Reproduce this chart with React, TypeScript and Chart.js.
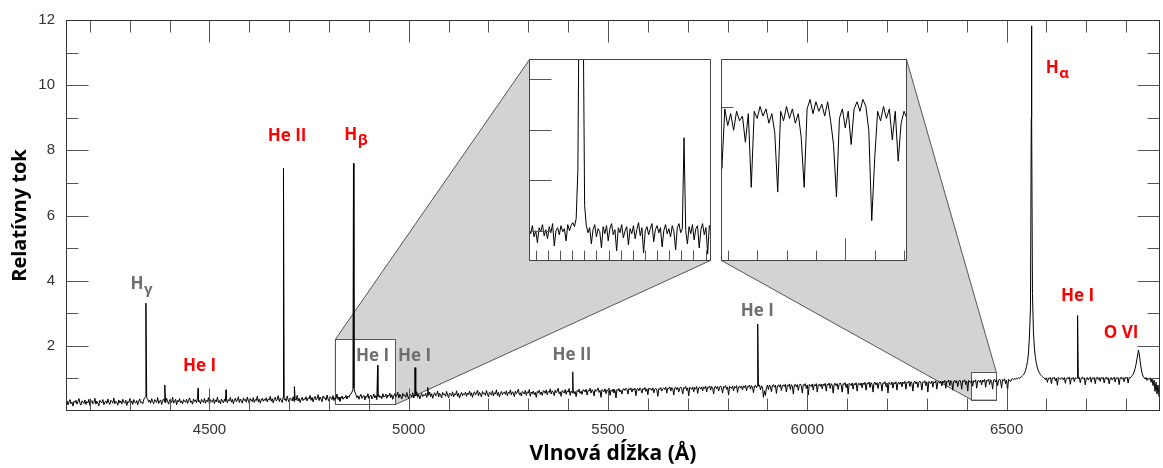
import React, { useEffect, useRef } from "react";
import { Chart, registerables } from "chart.js";
Chart.register(...registerables);

// ---------------- DATA ----------------
// main spectrum: continuum samples every 2.5 Å starting at 4140 Å (one row = 100 Å)
const gridStartWave = 4140;
const gridStepWave = 2.5;
const continuumFlux = [
  0.24,0.31,0.19,0.28,0.35,0.22,0.27,0.15,0.30,0.26,0.33,0.21,0.29,0.38,0.24,0.18,0.31,0.27,0.23,0.34,0.20,0.29,0.25,0.36,0.17,0.28,0.32,0.22,0.26,0.39,0.21,0.30,0.24,0.16,0.33,0.28,0.25,0.35,0.19,0.27,
  0.31,0.23,0.37,0.26,0.20,0.33,0.29,0.24,0.40,0.22,0.30,0.27,0.18,0.34,0.25,0.31,0.21,0.36,0.28,0.24,0.33,0.17,0.29,0.26,0.38,0.23,0.31,0.20,0.35,0.27,0.24,0.32,0.19,0.30,0.37,0.25,0.28,0.22,0.34,0.41,
  0.44,0.40,0.36,0.27,0.33,0.24,0.38,0.29,0.22,0.35,0.31,0.26,0.41,0.23,0.30,0.34,0.20,0.32,0.37,0.27,0.25,0.39,0.29,0.21,0.34,0.31,0.26,0.42,0.24,0.30,0.36,0.19,0.33,0.28,0.38,0.25,0.31,0.22,0.35,0.29,
  0.27,0.36,0.23,0.33,0.40,0.26,0.31,0.21,0.37,0.29,0.34,0.25,0.42,0.28,0.32,0.22,0.36,0.30,0.26,0.39,0.24,0.33,0.29,0.41,0.20,0.35,0.31,0.27,0.38,0.23,0.34,0.28,0.43,0.26,0.32,0.22,0.37,0.30,0.25,0.36,
  0.29,0.38,0.25,0.35,0.31,0.42,0.27,0.36,0.22,0.34,0.39,0.28,0.33,0.44,0.26,0.37,0.30,0.24,0.40,0.32,0.36,0.27,0.43,0.31,0.23,0.38,0.34,0.29,0.41,0.26,0.35,0.32,0.45,0.28,0.37,0.24,0.33,0.39,0.30,0.36,
  0.32,0.41,0.28,0.37,0.34,0.45,0.30,0.38,0.25,0.36,0.42,0.31,0.35,0.47,0.29,0.39,0.33,0.26,0.43,0.35,0.38,0.30,0.46,0.34,0.27,0.40,0.36,0.31,0.44,0.29,0.37,0.33,0.48,0.31,0.39,0.26,0.35,0.42,0.32,0.38,
  0.35,0.44,0.31,0.40,0.37,0.48,0.33,0.42,0.28,0.39,0.45,0.34,0.38,0.50,0.32,0.43,0.36,0.29,0.46,0.39,0.41,0.33,0.49,0.37,0.30,0.44,0.40,0.35,0.47,0.32,0.41,0.38,0.52,0.35,0.43,0.30,0.39,0.46,0.36,0.42,
  0.40,0.48,0.37,0.46,0.42,0.50,0.52,0.58,0.66,0.70,0.58,0.50,0.41,0.47,0.36,0.45,0.51,0.39,0.44,0.48,0.34,0.46,0.42,0.53,0.38,0.45,0.49,0.37,0.43,0.52,0.40,0.47,0.35,0.44,0.50,0.41,0.46,0.38,0.53,0.43,
  0.44,0.52,0.39,0.49,0.45,0.55,0.41,0.50,0.36,0.47,0.53,0.43,0.48,0.58,0.40,0.51,0.46,0.37,0.54,0.47,0.49,0.42,0.57,0.45,0.38,0.52,0.48,0.43,0.56,0.40,0.50,0.46,0.59,0.42,0.51,0.37,0.47,0.54,0.44,0.50,
  0.47,0.55,0.42,0.52,0.48,0.58,0.44,0.53,0.39,0.50,0.56,0.46,0.51,0.61,0.43,0.54,0.49,0.40,0.57,0.50,0.52,0.45,0.60,0.48,0.41,0.55,0.51,0.46,0.59,0.43,0.53,0.49,0.62,0.45,0.54,0.40,0.50,0.57,0.47,0.53,
  0.50,0.58,0.45,0.55,0.51,0.61,0.47,0.56,0.42,0.53,0.59,0.49,0.54,0.64,0.46,0.57,0.52,0.43,0.60,0.53,0.55,0.48,0.63,0.51,0.44,0.58,0.54,0.49,0.62,0.46,0.56,0.52,0.65,0.48,0.57,0.43,0.53,0.60,0.50,0.56,
  0.58,0.51,0.62,0.47,0.57,0.54,0.65,0.49,0.59,0.55,0.44,0.61,0.53,0.58,0.67,0.50,0.56,0.46,0.60,0.57,0.52,0.63,0.48,0.59,0.55,0.66,0.45,0.58,0.53,0.61,0.50,0.57,0.42,0.60,0.56,0.64,0.51,0.58,0.48,0.62,
  0.61,0.54,0.65,0.50,0.60,0.57,0.68,0.52,0.62,0.58,0.47,0.64,0.56,0.61,0.70,0.53,0.59,0.45,0.63,0.60,0.55,0.66,0.51,0.62,0.58,0.69,0.48,0.61,0.56,0.64,0.53,0.60,0.44,0.63,0.59,0.67,0.54,0.61,0.51,0.65,
  0.64,0.58,0.67,0.49,0.63,0.61,0.70,0.55,0.65,0.62,0.46,0.66,0.60,0.64,0.71,0.57,0.63,0.42,0.66,0.62,0.59,0.68,0.53,0.65,0.61,0.70,0.48,0.64,0.60,0.67,0.56,0.63,0.40,0.66,0.62,0.69,0.58,0.64,0.52,0.67,
  0.68,0.63,0.70,0.66,0.52,0.69,0.65,0.71,0.58,0.68,0.64,0.70,0.47,0.67,0.69,0.62,0.71,0.66,0.55,0.69,0.65,0.72,0.60,0.68,0.50,0.70,0.66,0.69,0.63,0.71,0.56,0.67,0.70,0.64,0.45,0.69,0.66,0.72,0.61,0.68,
  0.71,0.66,0.73,0.55,0.70,0.68,0.74,0.61,0.72,0.67,0.49,0.71,0.73,0.65,0.72,0.58,0.70,0.74,0.68,0.52,0.72,0.69,0.75,0.63,0.71,0.46,0.73,0.70,0.66,0.74,0.59,0.72,0.68,0.75,0.54,0.71,0.73,0.67,0.74,0.62,
  0.74,0.69,0.76,0.58,0.73,0.71,0.77,0.64,0.75,0.70,0.52,0.74,0.76,0.68,0.75,0.61,0.73,0.77,0.71,0.55,0.75,0.72,0.78,0.66,0.74,0.49,0.76,0.73,0.69,0.77,0.62,0.75,0.71,0.78,0.57,0.74,0.76,0.70,0.77,0.65,
  0.77,0.72,0.79,0.62,0.76,0.74,0.80,0.67,0.78,0.73,0.56,0.77,0.79,0.71,0.78,0.76,0.80,0.65,0.77,0.74,0.42,0.62,0.48,0.72,0.79,0.66,0.80,0.75,0.59,0.78,0.81,0.73,0.79,0.54,0.77,0.80,0.74,0.81,0.63,0.78,
  0.80,0.75,0.82,0.58,0.79,0.77,0.83,0.66,0.81,0.76,0.52,0.80,0.82,0.74,0.81,0.63,0.79,0.83,0.77,0.55,0.81,0.78,0.84,0.69,0.80,0.49,0.82,0.79,0.75,0.83,0.64,0.81,0.77,0.84,0.58,0.80,0.82,0.76,0.83,0.68,
  0.83,0.78,0.85,0.61,0.82,0.80,0.86,0.69,0.84,0.79,0.55,0.83,0.85,0.77,0.84,0.66,0.82,0.86,0.80,0.58,0.84,0.81,0.87,0.72,0.83,0.52,0.85,0.82,0.78,0.86,0.67,0.84,0.80,0.87,0.61,0.83,0.85,0.79,0.86,0.71,
  0.86,0.81,0.88,0.64,0.85,0.83,0.89,0.72,0.87,0.82,0.58,0.86,0.88,0.80,0.87,0.69,0.85,0.89,0.83,0.61,0.87,0.84,0.90,0.75,0.86,0.55,0.88,0.85,0.81,0.89,0.70,0.87,0.83,0.90,0.64,0.86,0.88,0.82,0.89,0.74,
  0.89,0.84,0.91,0.67,0.88,0.86,0.92,0.75,0.90,0.85,0.61,0.89,0.91,0.83,0.90,0.72,0.88,0.92,0.86,0.64,0.90,0.87,0.93,0.78,0.89,0.58,0.91,0.88,0.84,0.92,0.73,0.90,0.86,0.93,0.67,0.89,0.91,0.85,0.92,0.77,
  0.92,0.87,0.94,0.70,0.91,0.89,0.95,0.78,0.93,0.88,0.64,0.92,0.94,0.86,0.93,0.75,0.91,0.95,0.89,0.67,0.93,0.90,0.96,0.81,0.92,0.61,0.94,0.91,0.87,0.95,0.76,0.93,0.89,0.96,0.70,0.92,0.94,0.88,0.95,0.80,
  0.95,0.90,0.97,0.73,0.94,0.92,0.98,0.81,0.96,0.91,0.67,0.95,0.97,0.89,0.96,0.78,0.94,0.98,0.92,0.70,0.96,0.93,0.99,0.84,0.95,0.64,0.97,0.94,0.90,0.98,0.99,0.96,1.00,0.97,1.01,0.99,1.02,1.00,1.04,1.05,
  1.08,1.11,1.16,1.24,1.36,1.52,1.78,2.30,3.20,10.8,3.60,2.40,1.90,1.62,1.45,1.32,1.23,1.17,1.12,1.08,1.05,1.03,1.01,0.96,1.02,0.88,1.01,0.99,1.03,0.84,1.02,1.00,1.04,0.93,1.01,0.79,1.03,1.00,0.97,1.02,
  1.01,0.96,1.03,0.85,1.00,1.02,0.98,1.04,0.82,1.01,0.99,1.03,0.90,1.02,1.00,1.01,1.00,1.03,0.87,1.01,1.04,0.98,1.02,0.80,1.00,1.03,0.95,1.01,1.04,0.88,1.02,0.99,1.03,0.84,1.01,1.04,0.97,1.02,0.91,1.03,
  0.99,1.03,0.86,1.01,1.04,0.97,1.02,0.83,1.00,1.03,0.95,1.01,1.04,0.89,1.02,1.00,1.03,0.81,1.01,1.04,0.98,1.02,0.90,1.03,1.00,1.04,0.86,1.02,1.01,1.05,1.08,1.13,1.20,1.30,1.44,1.62,1.80,1.78,1.55,1.32,
  1.16,1.07,1.02,0.98,1.03,0.94,1.01,0.97,1.02,0.88,0.99,0.78,0.95,0.60,0.88,0.52,0.80,0.45,0.68,
];

// emission-line peaks (Å, relative flux)
const lineWave = [4340.5, 4387.9, 4471.5, 4541.6, 4685.7, 4713.1, 4861.3, 4921.9, 5015.7, 5047.7, 5411.5, 5875.6, 6562.0, 6562.8, 6563.6, 6678.2, 6830.5];
const lineFlux = [3.31, 0.80, 0.70, 0.65, 7.45, 0.75, 7.60, 1.40, 1.33, 0.72, 1.20, 2.67, 9.0, 11.82, 9.0, 2.93, 1.87];

const xTickLabels = [4500, 5000, 5500, 6000, 6500];
const yTickLabels = [2, 4, 6, 8, 10, 12];

// inset 1 (Hβ region), 1 Å steps
const inset1StartWave = 4830;
const inset1Flux = [
  0.52,0.47,0.55,0.44,0.50,0.38,0.53,0.49,0.56,0.45,
  0.51,0.42,0.54,0.48,0.57,0.35,0.50,0.53,0.46,0.55,
  0.49,0.52,0.40,0.56,0.50,0.55,0.58,0.54,0.62,1.10,
  3.50,7.60,3.00,0.75,0.55,0.48,0.53,0.37,0.51,0.56,
  0.44,0.52,0.49,0.33,0.54,0.47,0.55,0.40,0.52,0.57,
  0.46,0.51,0.30,0.53,0.48,0.56,0.43,0.50,0.54,0.36,
  0.52,0.47,0.55,0.42,0.51,0.58,0.45,0.53,0.28,0.50,
  0.54,0.46,0.52,0.57,0.39,0.51,0.55,0.48,0.53,0.34,
  0.50,0.56,0.47,0.52,0.44,0.55,0.49,0.31,0.53,0.57,
  0.48,0.52,1.42,0.50,0.37,0.54,0.47,0.56,0.41,0.52,
  0.55,0.33,0.51,0.57,0.46,0.53,0.27,0.55,0.50,
];
const inset1XTicks = [4834.0, 4841.2, 4848.4, 4855.6, 4862.8, 4870.0, 4877.2, 4884.4, 4891.6, 4898.8, 4906.0, 4913.2, 4920.4, 4927.6, 4934.8];
const inset1YTicks = [0.5, 1.0, 1.5, 2.0];

// inset 2 (6410–6470 Å), 1 Å steps
const inset2StartWave = 6407;
const inset2Flux = [
  0.93,0.74,0.99,0.92,0.97,0.90,0.98,0.94,0.96,0.85,
  0.97,0.66,0.98,0.95,1.00,0.96,0.99,0.93,0.97,0.89,
  0.64,0.98,0.94,1.00,0.95,0.99,0.93,0.97,0.87,0.66,
  0.99,1.03,0.97,1.02,0.98,1.01,0.96,1.02,0.94,0.84,
  0.62,0.95,0.99,0.91,0.98,0.84,0.99,1.02,0.98,1.03,
  1.00,0.90,0.52,0.78,0.98,0.94,1.00,0.95,0.99,0.86,
  0.98,0.77,0.93,0.98,0.95,
];
const inset2XTicks = [6410, 6420, 6430, 6440, 6450, 6460, 6470];
const inset2LongXTicks = [6450];
const inset2YTicks = [1.0];

// zoom regions on the main plot [λmin, λmax, fmin, fmax] and inset views
const zoomBox1 = [4816, 4967, 0.2, 2.2];
const zoomBox2 = [6411, 6474, 0.35, 1.2];
const inset1View = [4830, 4938, 0.2, 2.2];
const inset2View = [6407.7, 6471, 0.35, 1.2];

const RED = "#ff0000";
const GRAY = "#6e6e6e";
const lineLabels = [
  { text: "H", sub: "γ", wave: 4328.7, flux: 3.75, color: GRAY, weight: "bold" },
  { text: "He I", wave: 4475, flux: 1.22, color: RED, weight: "bold" },
  { text: "He II", wave: 4694.8, flux: 8.29, color: RED, weight: "bold" },
  { text: "H", sub: "β", wave: 4866.6, flux: 8.32, color: RED, weight: "bold" },
  { text: "He I", wave: 4909, flux: 1.52, color: GRAY, weight: "bold" },
  { text: "He I", wave: 5014.5, flux: 1.52, color: GRAY, weight: "bold" },
  { text: "He II", wave: 5409.5, flux: 1.55, color: GRAY, weight: "bold" },
  { text: "He I", wave: 5874.6, flux: 2.92, color: GRAY, weight: "bold" },
  { text: "H", sub: "α", wave: 6626.9, flux: 10.36, color: RED, weight: "bold" },
  { text: "He I", wave: 6678.3, flux: 3.38, color: RED, weight: "bold" },
  { text: "O VI", wave: 6787.4, flux: 2.25, color: RED, weight: "bold" },
];

// ---------------- LAYOUT ----------------
const W = 1163;
const H = 468;
const INSET1 = { left: 529, top: 59, width: 182, height: 202 };
const INSET2 = { left: 721, top: 59, width: 186, height: 202 };
const FRAME = "#333";
const TICK = "#555";

function hull(p: number[][]) {
  const pts = p.slice().sort((a, b) => a[0] - b[0] || a[1] - b[1]);
  const cross = (o: number[], a: number[], b: number[]) =>
    (a[0] - o[0]) * (b[1] - o[1]) - (a[1] - o[1]) * (b[0] - o[0]);
  const lower: number[][] = [];
  for (const q of pts) {
    while (lower.length >= 2 && cross(lower[lower.length - 2], lower[lower.length - 1], q) <= 0) lower.pop();
    lower.push(q);
  }
  const upper: number[][] = [];
  for (let i = pts.length - 1; i >= 0; i--) {
    const q = pts[i];
    while (upper.length >= 2 && cross(upper[upper.length - 2], upper[upper.length - 1], q) <= 0) upper.pop();
    upper.push(q);
  }
  upper.pop();
  lower.pop();
  return lower.concat(upper);
}

const mainDecor = {
  id: "mainDecor",
  beforeDatasetsDraw(chart: any) {
    const { ctx, scales } = chart;
    const x = scales.x, y = scales.y;
    const pairs: [number[], any][] = [[zoomBox1, INSET1], [zoomBox2, INSET2]];
    ctx.save();
    for (const [b, r] of pairs) {
      const bl = x.getPixelForValue(b[0]), br = x.getPixelForValue(b[1]);
      const bt = y.getPixelForValue(b[3]), bb = y.getPixelForValue(b[2]);
      const il = r.left + 0.5, it = r.top + 0.5, ir = r.left + r.width - 0.5, ib = r.top + r.height - 0.5;
      const h = hull([[bl, bt], [br, bt], [br, bb], [bl, bb], [il, it], [ir, it], [ir, ib], [il, ib]]);
      ctx.beginPath();
      h.forEach((p, i) => (i ? ctx.lineTo(p[0], p[1]) : ctx.moveTo(p[0], p[1])));
      ctx.closePath();
      ctx.fillStyle = "#d3d3d3";
      ctx.fill();
      ctx.strokeStyle = "#555";
      ctx.lineWidth = 1;
      ctx.stroke();
      ctx.fillStyle = "#fff";
      ctx.fillRect(bl, bt, br - bl, bb - bt);
      ctx.strokeRect(Math.round(bl) + 0.5, Math.round(bt) + 0.5, Math.round(br - bl), Math.round(bb - bt));
    }
    ctx.restore();
  },
  afterDatasetsDraw(chart: any) {
    const { ctx, chartArea: a, scales } = chart;
    const x = scales.x, y = scales.y;
    ctx.save();
    const L = Math.round(a.left) + 0.5, R = Math.round(a.right) - 0.5;
    const T = Math.round(a.top) + 0.5, B = Math.round(a.bottom) - 0.5;
    ctx.strokeStyle = TICK;
    ctx.lineWidth = 1;
    ctx.beginPath();
    for (let v = 4200; v <= 6800; v += 100) {
      const px = Math.round(x.getPixelForValue(v)) + 0.5;
      const len = v % 500 === 0 ? 22 : 12;
      ctx.moveTo(px, B); ctx.lineTo(px, B - len);
      ctx.moveTo(px, T); ctx.lineTo(px, T + len);
    }
    for (let v = 1; v <= 11; v += 1) {
      const py = Math.round(y.getPixelForValue(v)) + 0.5;
      const len = v % 2 === 0 ? 22 : 12;
      ctx.moveTo(L, py); ctx.lineTo(L + len, py);
      ctx.moveTo(R, py); ctx.lineTo(R - len, py);
    }
    ctx.stroke();
    ctx.strokeStyle = FRAME;
    ctx.strokeRect(L, T, R - L, B - T);
    ctx.textBaseline = "alphabetic";
    ctx.textAlign = "left";
    for (const l of lineLabels as any[]) {
      const cx = x.getPixelForValue(l.wave);
      const by = y.getPixelForValue(l.flux);
      const mf = `${l.weight} 17px "Open Sans"`;
      const sf = `${l.weight} 15px "Open Sans"`;
      ctx.font = mf;
      const w1 = ctx.measureText(l.text).width;
      let w2 = 0;
      if (l.sub) { ctx.font = sf; w2 = ctx.measureText(l.sub).width; }
      const sx = cx - (w1 + w2) / 2;
      ctx.fillStyle = l.color;
      ctx.font = mf;
      ctx.fillText(l.text, sx, by);
      if (l.sub) { ctx.font = sf; ctx.fillText(l.sub, sx + w1 + 0.5, by + 5); }
    }
    ctx.restore();
  },
};

function insetDecor(xTicks: number[], yTicks: number[], longX: number[]) {
  return {
    id: "insetDecor",
    beforeDraw(chart: any) {
      const { ctx, width, height } = chart;
      ctx.save();
      ctx.fillStyle = "#fff";
      ctx.fillRect(0, 0, width, height);
      ctx.restore();
    },
    afterDraw(chart: any) {
      const { ctx, width, height, scales } = chart;
      ctx.save();
      ctx.strokeStyle = TICK;
      ctx.lineWidth = 1;
      ctx.beginPath();
      const B = height - 0.5;
      for (const v of xTicks) {
        const px = Math.round(scales.x.getPixelForValue(v)) + 0.5;
        const len = longX.includes(v) ? 22 : 10;
        ctx.moveTo(px, B); ctx.lineTo(px, B - len);
      }
      for (const v of yTicks) {
        const py = Math.round(scales.y.getPixelForValue(v)) + 0.5;
        const len = yTicks.length > 1 ? 22 : 12;
        ctx.moveTo(0.5, py); ctx.lineTo(0.5 + len, py);
      }
      ctx.stroke();
      ctx.strokeStyle = "#444";
      ctx.strokeRect(0.5, 0.5, width - 1, height - 1);
      ctx.restore();
    },
  };
}

function makeInset(canvas: HTMLCanvasElement, start: number, flux: number[], view: number[], xTicks: number[], yTicks: number[], longX: number[]) {
  const data = flux.map((f, i) => ({ x: start + i, y: f }));
  return new Chart(canvas, {
    type: "line",
    data: { datasets: [{ data, borderColor: "#000", borderWidth: 1, pointRadius: 0, tension: 0, fill: false }] },
    options: {
      animation: false,
      responsive: false,
      events: [],
      layout: { padding: 0 },
      plugins: { legend: { display: false }, tooltip: { enabled: false } },
      scales: {
        x: { type: "linear", display: false, min: view[0], max: view[1] },
        y: { type: "linear", display: false, min: view[2], max: view[3] },
      },
    },
    plugins: [insetDecor(xTicks, yTicks, longX)],
  } as any);
}

export default function App() {
  const mainRef = useRef<HTMLCanvasElement>(null);
  const in1Ref = useRef<HTMLCanvasElement>(null);
  const in2Ref = useRef<HTMLCanvasElement>(null);

  useEffect(() => {
    const mainPoints = continuumFlux
      .map((f, i) => ({ x: gridStartWave + i * gridStepWave, y: f }))
      .concat(lineWave.map((w, i) => ({ x: w, y: lineFlux[i] })))
      .sort((a, b) => a.x - b.x);

    const main = new Chart(mainRef.current!, {
      type: "line",
      data: { datasets: [{ data: mainPoints, borderColor: "#000", borderWidth: 1, pointRadius: 0, tension: 0, fill: false }] },
      options: {
        animation: false,
        responsive: false,
        events: [],
        layout: { padding: { top: 17, right: 3, left: 0, bottom: 0 } },
        plugins: { legend: { display: false }, tooltip: { enabled: false } },
        scales: {
          x: {
            type: "linear",
            min: 4140,
            max: 6885,
            afterBuildTicks: (s: any) => { s.ticks = xTickLabels.map((v) => ({ value: v })); },
            afterFit: (s: any) => { s.height = 57; },
            grid: { display: false, drawTicks: false },
            border: { display: false },
            ticks: { autoSkip: false, maxRotation: 0, padding: 10, color: "#333", font: { family: "Liberation Sans", size: 15 }, callback: (v: any) => String(v) },
            title: { display: true, text: "Vlnová dĺžka (Å)", color: "#000", font: { family: "Open Sans", size: 21, weight: "bold" }, padding: { top: 0, bottom: 1 } },
          },
          y: {
            type: "linear",
            min: 0,
            max: 12,
            afterBuildTicks: (s: any) => { s.ticks = yTickLabels.map((v) => ({ value: v })); },
            afterFit: (s: any) => { s.width = 66; },
            grid: { display: false, drawTicks: false },
            border: { display: false },
            ticks: { autoSkip: false, padding: 11, color: "#333", font: { family: "Liberation Sans", size: 15 }, callback: (v: any) => String(v) },
            title: { display: true, text: "Relatívny tok", color: "#000", font: { family: "Open Sans", size: 20, weight: "bold" }, padding: { top: 8, bottom: 0 } },
          },
        },
      },
      plugins: [mainDecor],
    } as any);

    const c1 = makeInset(in1Ref.current!, inset1StartWave, inset1Flux, inset1View, inset1XTicks, inset1YTicks, []);
    const c2 = makeInset(in2Ref.current!, inset2StartWave, inset2Flux, inset2View, inset2XTicks, inset2YTicks, inset2LongXTicks);

    return () => {
      main.destroy();
      c1.destroy();
      c2.destroy();
    };
  }, []);

  const abs = (l: number, t: number, w: number, h: number): React.CSSProperties => ({
    position: "absolute", left: l, top: t, width: w, height: h, display: "block",
  });

  return (
    <div style={{ position: "absolute", left: 0, top: 0, width: W, height: H, background: "#fff" }}>
      <canvas ref={mainRef} width={W} height={H} style={abs(0, 0, W, H)} />
      <canvas ref={in1Ref} width={INSET1.width} height={INSET1.height} style={abs(INSET1.left, INSET1.top, INSET1.width, INSET1.height)} />
      <canvas ref={in2Ref} width={INSET2.width} height={INSET2.height} style={abs(INSET2.left, INSET2.top, INSET2.width, INSET2.height)} />
    </div>
  );
}
